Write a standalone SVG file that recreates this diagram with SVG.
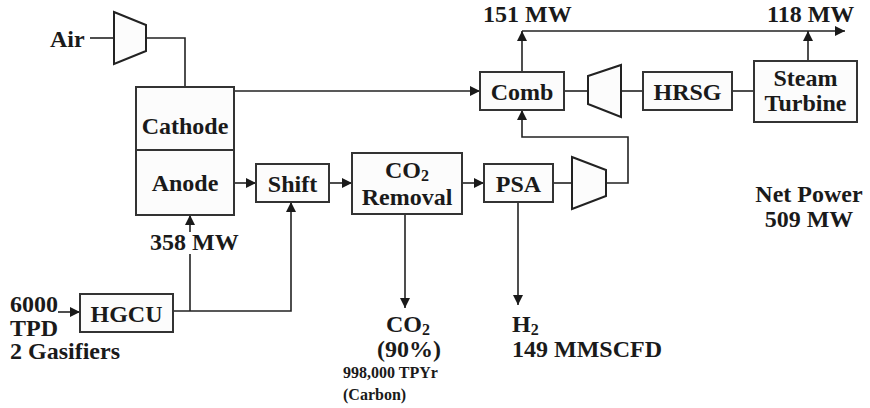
<svg xmlns="http://www.w3.org/2000/svg" width="870" height="408" viewBox="0 0 870 408">
<style>
.box{fill:#fcfcfc;stroke:#333;stroke-width:2}
.eq{fill:#fcfcfc;stroke:#222;stroke-width:2}
.ln{fill:none;stroke:#222;stroke-width:1.6}
.t{font-family:'Liberation Serif','DejaVu Serif',serif;font-weight:bold;font-size:24px;fill:#1a1a1a}
.s{font-size:16px}
.sub{font-size:16px}
.m{text-anchor:middle}
</style>
<defs>
<marker id="ah" viewBox="0 0 10 10" refX="10" refY="5" markerWidth="10" markerHeight="10" markerUnits="userSpaceOnUse" orient="auto">
<path d="M0,0 L10,5 L0,10 z" fill="#1a1a1a"/>
</marker>
</defs>
<rect width="870" height="408" fill="#fff"/>
<g id="connectors">
<path class="ln" d="M90,38 H114"/>
<path class="ln" d="M146,38 H185 V87"/>
<path class="ln" d="M234,91 H480" marker-end="url(#ah)"/>
<path class="ln" d="M522,72 V31" marker-end="url(#ah)"/>
<path class="ln" d="M522,31 H845" marker-end="url(#ah)"/>
<path class="ln" d="M808,61 V31" marker-end="url(#ah)"/>
<path class="ln" d="M564,91 H588"/>
<path class="ln" d="M621,91 H643"/>
<path class="ln" d="M732,91 H754"/>
<path class="ln" d="M606,183 H628 V137 H522 V110" marker-end="url(#ah)"/>
<path class="ln" d="M553,183 H572"/>
<path class="ln" d="M462,183 H484" marker-end="url(#ah)"/>
<path class="ln" d="M329,183 H352" marker-end="url(#ah)"/>
<path class="ln" d="M234,183 H256" marker-end="url(#ah)"/>
<path class="ln" d="M190,232 V215" marker-end="url(#ah)"/>
<path class="ln" d="M190,254 V311"/>
<path class="ln" d="M173,311 H291 V202" marker-end="url(#ah)"/>
<path class="ln" d="M58,312 H80" marker-end="url(#ah)"/>
<path class="ln" d="M405,214 V308" marker-end="url(#ah)"/>
<path class="ln" d="M518,202 V305" marker-end="url(#ah)"/>
</g>
<g id="air-compressor"><polygon class="eq" points="114,12 146,25 146,51 114,64"/></g>
<g id="fuel-cell">
<rect class="box" x="136" y="87" width="98" height="128"/>
<line x1="136" y1="150" x2="234" y2="150" stroke="#333" stroke-width="2"/>
<text class="t m" x="185" y="134">Cathode</text>
<text class="t m" x="185" y="191">Anode</text>
</g>
<g id="comb"><rect class="box" x="480" y="72" width="84" height="38"/><text class="t m" x="522" y="100">Comb</text></g>
<g id="gas-turbine"><polygon class="eq" points="588,76 621,65 621,117 588,104"/></g>
<g id="hrsg"><rect class="box" x="643" y="72" width="89" height="38"/><text class="t m" x="687.5" y="100">HRSG</text></g>
<g id="steam-turbine"><rect class="box" x="754" y="61" width="103" height="61"/><text class="t m" x="805.5" y="86">Steam</text><text class="t m" x="805.5" y="111">Turbine</text></g>
<g id="shift"><rect class="box" x="256" y="164" width="73" height="38"/><text class="t m" x="292.5" y="192">Shift</text></g>
<g id="co2-removal"><rect class="box" x="352" y="153" width="110" height="61"/><text class="t m" x="407" y="178">CO<tspan class="sub" dy="3">2</tspan></text><text class="t m" x="407" y="205">Removal</text></g>
<g id="psa"><rect class="box" x="484" y="164" width="69" height="38"/><text class="t m" x="518.5" y="192">PSA</text></g>
<g id="h2-compressor"><polygon class="eq" points="572,157 606,170 606,196 572,209"/></g>
<g id="hgcu"><rect class="box" x="80" y="294" width="93" height="38"/><text class="t m" x="126.5" y="322">HGCU</text></g>
<g id="labels">
<text class="t" x="50" y="47">Air</text>
<text class="t" x="483" y="22">151 MW</text>
<text class="t" x="767" y="22">118 MW</text>
<text class="t" x="150" y="250">358 MW</text>
<text class="t" x="10" y="312">6000</text>
<text class="t" x="10" y="336">TPD</text>
<text class="t" x="10" y="359">2 Gasifiers</text>
<text class="t m" x="809" y="202">Net Power</text>
<text class="t m" x="809" y="227">509 MW</text>
<text class="t" x="386" y="332">CO<tspan class="sub" dy="3">2</tspan></text>
<text class="t m" x="409" y="357">(90%)</text>
<text class="t s" x="343" y="378">998,000 TPYr</text>
<text class="t s" x="343" y="400">(Carbon)</text>
<text class="t" x="512" y="332">H<tspan class="sub" dy="3">2</tspan></text>
<text class="t" x="512" y="357">149 MMSCFD</text>
</g>
</svg>
